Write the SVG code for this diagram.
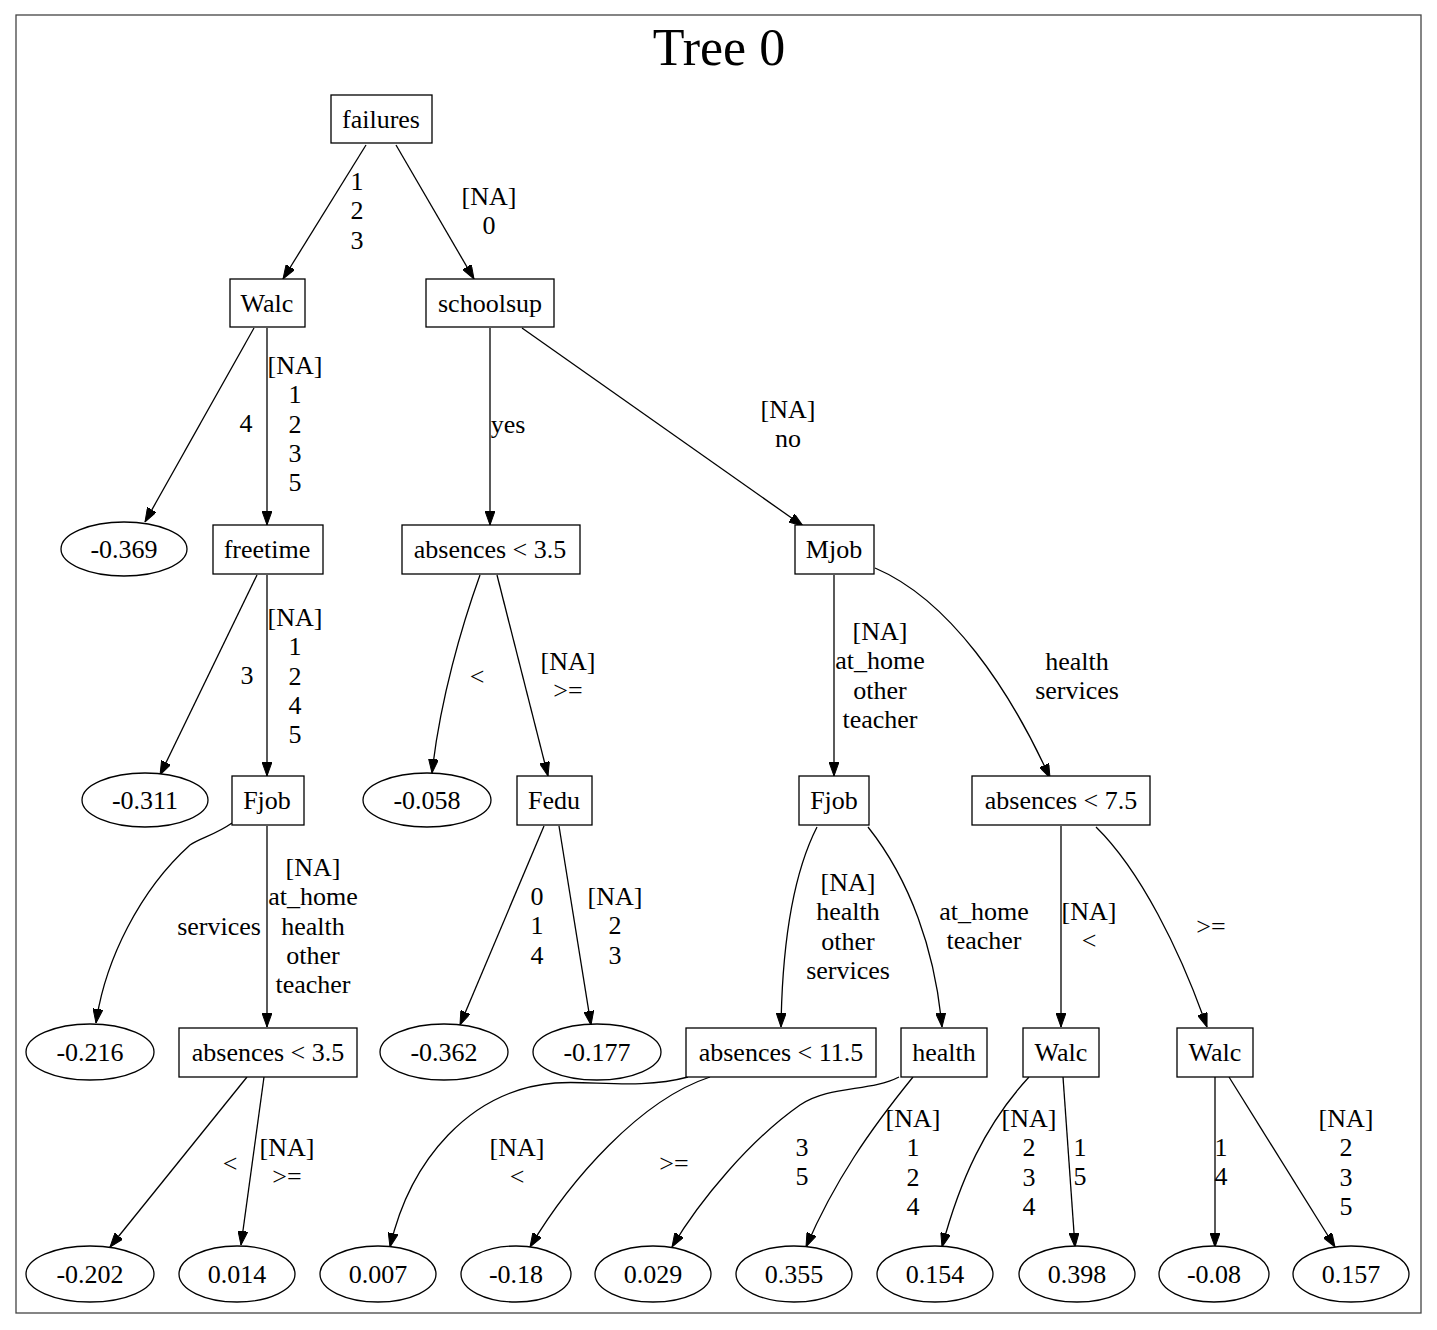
<svg xmlns="http://www.w3.org/2000/svg" width="1437" height="1330" viewBox="0 0 1437 1330">
<style>
text{font-family:"Liberation Serif","Times New Roman",serif;font-size:26px;fill:#000;text-anchor:middle}
.n rect,.n ellipse{fill:#fff;stroke:#000;stroke-width:1.3}
.e path{fill:none;stroke:#000;stroke-width:1.3;marker-end:url(#ah)}
.title{font-size:52px}
</style>
<defs>
<marker id="ah" markerUnits="userSpaceOnUse" markerWidth="14" markerHeight="10" refX="14" refY="5" orient="auto">
<path d="M0,0 L14,5 L0,10 z" fill="#000" stroke="#000" stroke-width="1"/>
</marker>
</defs>
<rect x="0" y="0" width="1437" height="1330" fill="#fff"/>
<rect x="16" y="15" width="1405" height="1298" fill="#fff" stroke="#444" stroke-width="1.3"/>
<text class="title" x="719" y="65">Tree 0</text>

<g id="edges" class="e">
<path d="M366,145 L283,279"/>
<path d="M396,145 L474,279"/>
<path d="M254,328 L145,522"/>
<path d="M267,328 L267,525"/>
<path d="M490,328 L490,525"/>
<path d="M522,328 L803,526"/>
<path d="M257,575 L160,775"/>
<path d="M267,575 L267,776"/>
<path d="M480,575 C462,625 440,700 432,773"/>
<path d="M497,575 L548,776"/>
<path d="M834,575 L834,776"/>
<path d="M875,568 C950,600 1010,690 1050,778"/>
<path d="M232,823 C215,835 200,838 190,845 C140,890 105,960 96,1023"/>
<path d="M267,826 L267,1027"/>
<path d="M544,826 L460,1025"/>
<path d="M559,826 L591,1025"/>
<path d="M817,827 C790,880 782,960 781,1027"/>
<path d="M868,827 C910,880 935,950 942,1027"/>
<path d="M1061,826 L1061,1027"/>
<path d="M1096,827 C1140,870 1180,950 1207,1027"/>
<path d="M247,1077 L110,1247"/>
<path d="M264,1077 L241,1245"/>
<path d="M688,1077 C640,1090 590,1080 555,1083 C470,1090 410,1160 390,1247"/>
<path d="M710,1077 C640,1100 570,1180 530,1247"/>
<path d="M899,1077 C870,1092 830,1085 800,1105 C750,1140 700,1200 672,1247"/>
<path d="M913,1077 C870,1130 835,1180 806,1247"/>
<path d="M1029,1077 C985,1125 960,1180 942,1247"/>
<path d="M1063,1077 L1075,1247"/>
<path d="M1215,1077 L1215,1247"/>
<path d="M1229,1077 L1335,1247"/>
</g>

<g id="edge-labels">
<text x="357" y="190">1<tspan x="357" dy="29.3">2</tspan><tspan x="357" dy="29.3">3</tspan></text>
<text x="489" y="205">[NA]<tspan x="489" dy="29.3">0</tspan></text>
<text x="246" y="432">4</text>
<text x="295" y="374">[NA]<tspan x="295" dy="29.3">1</tspan><tspan x="295" dy="29.3">2</tspan><tspan x="295" dy="29.3">3</tspan><tspan x="295" dy="29.3">5</tspan></text>
<text x="508" y="433">yes</text>
<text x="788" y="418">[NA]<tspan x="788" dy="29.3">no</tspan></text>
<text x="247" y="684">3</text>
<text x="295" y="626">[NA]<tspan x="295" dy="29.3">1</tspan><tspan x="295" dy="29.3">2</tspan><tspan x="295" dy="29.3">4</tspan><tspan x="295" dy="29.3">5</tspan></text>
<text x="477" y="685">&lt;</text>
<text x="568" y="670">[NA]<tspan x="568" dy="29.3">&gt;=</tspan></text>
<text x="880" y="640">[NA]<tspan x="880" dy="29.3">at_home</tspan><tspan x="880" dy="29.3">other</tspan><tspan x="880" dy="29.3">teacher</tspan></text>
<text x="1077" y="670">health<tspan x="1077" dy="29.3">services</tspan></text>
<text x="219" y="935">services</text>
<text x="313" y="876">[NA]<tspan x="313" dy="29.3">at_home</tspan><tspan x="313" dy="29.3">health</tspan><tspan x="313" dy="29.3">other</tspan><tspan x="313" dy="29.3">teacher</tspan></text>
<text x="537" y="905">0<tspan x="537" dy="29.3">1</tspan><tspan x="537" dy="29.3">4</tspan></text>
<text x="615" y="905">[NA]<tspan x="615" dy="29.3">2</tspan><tspan x="615" dy="29.3">3</tspan></text>
<text x="848" y="891">[NA]<tspan x="848" dy="29.3">health</tspan><tspan x="848" dy="29.3">other</tspan><tspan x="848" dy="29.3">services</tspan></text>
<text x="984" y="920">at_home<tspan x="984" dy="29.3">teacher</tspan></text>
<text x="1089" y="920">[NA]<tspan x="1089" dy="29.3">&lt;</tspan></text>
<text x="1211" y="935">&gt;=</text>
<text x="230" y="1172">&lt;</text>
<text x="287" y="1156">[NA]<tspan x="287" dy="29.3">&gt;=</tspan></text>
<text x="517" y="1156">[NA]<tspan x="517" dy="29.3">&lt;</tspan></text>
<text x="674" y="1172">&gt;=</text>
<text x="802" y="1156">3<tspan x="802" dy="29.3">5</tspan></text>
<text x="913" y="1127">[NA]<tspan x="913" dy="29.3">1</tspan><tspan x="913" dy="29.3">2</tspan><tspan x="913" dy="29.3">4</tspan></text>
<text x="1029" y="1127">[NA]<tspan x="1029" dy="29.3">2</tspan><tspan x="1029" dy="29.3">3</tspan><tspan x="1029" dy="29.3">4</tspan></text>
<text x="1080" y="1156">1<tspan x="1080" dy="29.3">5</tspan></text>
<text x="1221" y="1156">1<tspan x="1221" dy="29.3">4</tspan></text>
<text x="1346" y="1127">[NA]<tspan x="1346" dy="29.3">2</tspan><tspan x="1346" dy="29.3">3</tspan><tspan x="1346" dy="29.3">5</tspan></text>
</g>

<g id="n-failures" class="n"><rect x="331" y="95" width="101" height="48"/><text x="381" y="128">failures</text></g>
<g id="n-walc1" class="n"><rect x="230" y="279" width="75" height="48"/><text x="267" y="312">Walc</text></g>
<g id="n-schoolsup" class="n"><rect x="426" y="279" width="128" height="48"/><text x="490" y="312">schoolsup</text></g>
<g id="n-l0369" class="n"><ellipse cx="124" cy="549" rx="63" ry="27"/><text x="124" y="558">-0.369</text></g>
<g id="n-freetime" class="n"><rect x="213" y="525" width="110" height="49"/><text x="267" y="558">freetime</text></g>
<g id="n-abs35a" class="n"><rect x="402" y="525" width="178" height="49"/><text x="490" y="558">absences &lt; 3.5</text></g>
<g id="n-mjob" class="n"><rect x="795" y="525" width="79" height="49"/><text x="834" y="558">Mjob</text></g>
<g id="n-l0311" class="n"><ellipse cx="145" cy="800" rx="63" ry="27"/><text x="145" y="809">-0.311</text></g>
<g id="n-fjob1" class="n"><rect x="232" y="776" width="72" height="49"/><text x="267" y="809">Fjob</text></g>
<g id="n-l0058" class="n"><ellipse cx="427" cy="800" rx="64" ry="27"/><text x="427" y="809">-0.058</text></g>
<g id="n-fedu" class="n"><rect x="517" y="776" width="75" height="49"/><text x="554" y="809">Fedu</text></g>
<g id="n-fjob2" class="n"><rect x="799" y="776" width="70" height="49"/><text x="834" y="809">Fjob</text></g>
<g id="n-abs75" class="n"><rect x="972" y="776" width="178" height="49"/><text x="1061" y="809">absences &lt; 7.5</text></g>
<g id="n-l0216" class="n"><ellipse cx="90" cy="1052" rx="64" ry="28"/><text x="90" y="1061">-0.216</text></g>
<g id="n-abs35b" class="n"><rect x="179" y="1028" width="178" height="49"/><text x="268" y="1061">absences &lt; 3.5</text></g>
<g id="n-l0362" class="n"><ellipse cx="444" cy="1052" rx="64" ry="28"/><text x="444" y="1061">-0.362</text></g>
<g id="n-l0177" class="n"><ellipse cx="597" cy="1052" rx="64" ry="28"/><text x="597" y="1061">-0.177</text></g>
<g id="n-abs115" class="n"><rect x="686" y="1028" width="190" height="49"/><text x="781" y="1061">absences &lt; 11.5</text></g>
<g id="n-health" class="n"><rect x="901" y="1028" width="86" height="49"/><text x="944" y="1061">health</text></g>
<g id="n-walc2" class="n"><rect x="1023" y="1028" width="76" height="49"/><text x="1061" y="1061">Walc</text></g>
<g id="n-walc3" class="n"><rect x="1177" y="1028" width="76" height="49"/><text x="1215" y="1061">Walc</text></g>
<g id="n-l0202" class="n"><ellipse cx="90" cy="1274" rx="64" ry="28"/><text x="90" y="1283">-0.202</text></g>
<g id="n-p0014" class="n"><ellipse cx="237" cy="1274" rx="58" ry="28"/><text x="237" y="1283">0.014</text></g>
<g id="n-p0007" class="n"><ellipse cx="378" cy="1274" rx="58" ry="28"/><text x="378" y="1283">0.007</text></g>
<g id="n-l018" class="n"><ellipse cx="516" cy="1274" rx="55" ry="28"/><text x="516" y="1283">-0.18</text></g>
<g id="n-p0029" class="n"><ellipse cx="653" cy="1274" rx="58" ry="28"/><text x="653" y="1283">0.029</text></g>
<g id="n-p0355" class="n"><ellipse cx="794" cy="1274" rx="58" ry="28"/><text x="794" y="1283">0.355</text></g>
<g id="n-p0154" class="n"><ellipse cx="935" cy="1274" rx="58" ry="28"/><text x="935" y="1283">0.154</text></g>
<g id="n-p0398" class="n"><ellipse cx="1077" cy="1274" rx="58" ry="28"/><text x="1077" y="1283">0.398</text></g>
<g id="n-l008" class="n"><ellipse cx="1214" cy="1274" rx="55" ry="28"/><text x="1214" y="1283">-0.08</text></g>
<g id="n-p0157" class="n"><ellipse cx="1351" cy="1274" rx="58" ry="28"/><text x="1351" y="1283">0.157</text></g>
</svg>
